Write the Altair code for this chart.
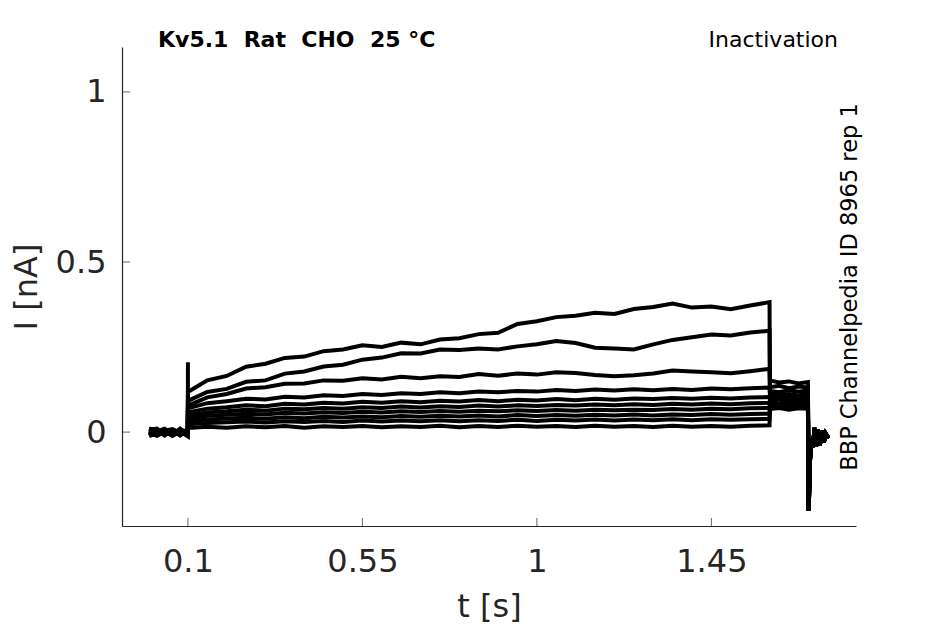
import altair as alt
import pandas as pd

# ---- data ----
t_pre = [0.0, 0.02, 0.04, 0.06, 0.08, 0.0995]
t_step = [0.10, 0.15, 0.20, 0.25, 0.30, 0.35, 0.40, 0.45, 0.50, 0.55,
          0.60, 0.65, 0.70, 0.75, 0.80, 0.85, 0.90, 0.95, 1.00, 1.05,
          1.10, 1.15, 1.20, 1.25, 1.30, 1.35, 1.40, 1.45, 1.50, 1.55, 1.60]
t_tail = [1.601, 1.625, 1.65, 1.675, 1.699]
t_post = [1.701, 1.704, 1.708, 1.712, 1.716, 1.72, 1.725, 1.73, 1.735, 1.74, 1.745, 1.752]
i_post = [-0.232, -0.09, -0.02, -0.045, 0.012, -0.042, 0.008, -0.038, 0.004, -0.03, -0.005, -0.018]
t_spike = [0.1, 0.1]
i_spike = [0.0, 0.205]

pre_a = [0.004, -0.006, 0.008, -0.004, 0.006, 0.002]
pre_b = [-0.008, 0.005, -0.003, 0.007, -0.006, 0.001]
pre_c = [0.009, -0.002, 0.005, -0.009, 0.003, -0.004]
pre_d = [-0.004, 0.008, -0.007, 0.002, -0.008, 0.006]
pre_e = [0.001, -0.009, 0.004, 0.009, -0.002, -0.007]
pre_f = [-0.010, 0.002, 0.010, -0.005, 0.008, -0.001]
pre_g = [0.007, 0.010, -0.006, 0.004, -0.010, 0.009]
pre_h = [-0.002, -0.011, 0.001, -0.008, 0.010, -0.010]
pre_i = [0.011, 0.004, -0.010, 0.006, -0.003, 0.005]
pre_j = [-0.012, -0.004, 0.002, -0.011, 0.001, -0.012]

step_a = [0.118, 0.152, 0.165, 0.192, 0.201, 0.218, 0.222, 0.238, 0.243, 0.255,
          0.250, 0.263, 0.258, 0.272, 0.276, 0.288, 0.292, 0.318, 0.326, 0.338,
          0.342, 0.351, 0.347, 0.362, 0.368, 0.378, 0.366, 0.369, 0.361, 0.372, 0.382]
step_b = [0.092, 0.118, 0.127, 0.148, 0.152, 0.172, 0.178, 0.193, 0.198, 0.213,
          0.219, 0.232, 0.231, 0.243, 0.241, 0.246, 0.243, 0.252, 0.258, 0.268,
          0.262, 0.248, 0.246, 0.243, 0.258, 0.271, 0.279, 0.287, 0.284, 0.293, 0.298]
step_c = [0.078, 0.102, 0.112, 0.128, 0.132, 0.142, 0.143, 0.152, 0.151, 0.158,
          0.155, 0.163, 0.158, 0.164, 0.162, 0.171, 0.166, 0.172, 0.169, 0.176,
          0.174, 0.168, 0.164, 0.167, 0.172, 0.181, 0.178, 0.176, 0.173, 0.179, 0.186]
step_d = [0.070, 0.085, 0.091, 0.098, 0.096, 0.104, 0.102, 0.108, 0.106, 0.112,
          0.109, 0.114, 0.112, 0.117, 0.114, 0.119, 0.117, 0.121, 0.119, 0.124,
          0.121, 0.125, 0.122, 0.126, 0.123, 0.127, 0.124, 0.128, 0.126, 0.129, 0.131]
step_e = [0.058, 0.069, 0.073, 0.079, 0.076, 0.083, 0.081, 0.086, 0.084, 0.089,
          0.086, 0.091, 0.088, 0.092, 0.090, 0.094, 0.091, 0.095, 0.093, 0.097,
          0.094, 0.098, 0.095, 0.099, 0.097, 0.100, 0.098, 0.101, 0.099, 0.102, 0.103]
step_f = [0.049, 0.058, 0.061, 0.066, 0.063, 0.069, 0.067, 0.071, 0.069, 0.073,
          0.071, 0.075, 0.072, 0.076, 0.074, 0.078, 0.075, 0.079, 0.077, 0.080,
          0.078, 0.081, 0.079, 0.082, 0.080, 0.083, 0.081, 0.084, 0.082, 0.085, 0.086]
step_g = [0.041, 0.048, 0.051, 0.054, 0.052, 0.057, 0.055, 0.058, 0.056, 0.060,
          0.058, 0.061, 0.059, 0.062, 0.060, 0.063, 0.061, 0.064, 0.062, 0.065,
          0.063, 0.066, 0.064, 0.066, 0.065, 0.068, 0.066, 0.069, 0.067, 0.070, 0.071]
step_h = [0.032, 0.037, 0.040, 0.042, 0.039, 0.044, 0.041, 0.045, 0.043, 0.046,
          0.044, 0.047, 0.045, 0.048, 0.046, 0.049, 0.046, 0.050, 0.047, 0.050,
          0.048, 0.051, 0.049, 0.052, 0.049, 0.052, 0.050, 0.053, 0.051, 0.053, 0.054]
step_i = [0.023, 0.027, 0.029, 0.031, 0.028, 0.032, 0.030, 0.033, 0.030, 0.034,
          0.031, 0.034, 0.032, 0.035, 0.032, 0.035, 0.033, 0.036, 0.033, 0.036,
          0.034, 0.037, 0.034, 0.037, 0.035, 0.038, 0.035, 0.038, 0.036, 0.038, 0.039]
step_j = [0.012, 0.016, 0.013, 0.017, 0.014, 0.018, 0.013, 0.017, 0.015, 0.018,
          0.014, 0.017, 0.015, 0.019, 0.014, 0.018, 0.015, 0.019, 0.016, 0.018,
          0.015, 0.019, 0.016, 0.018, 0.015, 0.019, 0.016, 0.018, 0.016, 0.019, 0.020]

tail_a = [0.152, 0.146, 0.149, 0.143, 0.147]
tail_b = [0.132, 0.136, 0.129, 0.134, 0.131]
tail_c = [0.121, 0.117, 0.123, 0.119, 0.122]
tail_d = [0.111, 0.107, 0.112, 0.108, 0.110]
tail_e = [0.102, 0.099, 0.104, 0.100, 0.102]
tail_f = [0.094, 0.097, 0.092, 0.096, 0.094]
tail_g = [0.088, 0.085, 0.089, 0.086, 0.088]
tail_h = [0.082, 0.079, 0.083, 0.080, 0.081]
tail_i = [0.076, 0.073, 0.077, 0.074, 0.076]
tail_j = [0.068, 0.071, 0.066, 0.070, 0.069]

x_ticks = [0.1, 0.55, 1, 1.45]
y_ticks = [0, 0.5, 1]

NB = "\u00a0"
title_left = "Kv5.1" + NB * 2 + "Rat" + NB * 2 + "CHO" + NB * 2 + "25" + NB + "°C"
title_right = "Inactivation"
side_label = "BBP Channelpedia ID 8965 rep 1"

# ---- build table ----
sweeps = {
    "a": (pre_a, step_a, tail_a), "b": (pre_b, step_b, tail_b),
    "c": (pre_c, step_c, tail_c), "d": (pre_d, step_d, tail_d),
    "e": (pre_e, step_e, tail_e), "f": (pre_f, step_f, tail_f),
    "g": (pre_g, step_g, tail_g), "h": (pre_h, step_h, tail_h),
    "i": (pre_i, step_i, tail_i), "j": (pre_j, step_j, tail_j),
}
rows = []
for name, (pre, step, tail) in sweeps.items():
    order = 0
    for t, v in list(zip(t_pre, pre)) + list(zip(t_step, step)) + list(zip(t_tail, tail)) + list(zip(t_post, i_post)):
        rows.append({"sweep": name, "t": t, "i": v, "o": order})
        order += 1
for k, (t, v) in enumerate(zip(t_spike, i_spike)):
    rows.append({"sweep": "spike", "t": t, "i": v, "o": k})
df = pd.DataFrame(rows)

X_DOM = [-0.07, 1.823]
Y_DOM = [-0.276, 1.132]
W, H = 734, 479
FONT = "DejaVu Sans"
INK = "#262626"

xs = alt.Scale(domain=X_DOM, nice=False, zero=False)
ys = alt.Scale(domain=Y_DOM, nice=False, zero=False)

lines = alt.Chart(df).mark_line(color="black", strokeWidth=4, strokeJoin="miter",
                                clip=True).encode(
    x=alt.X("t:Q", scale=xs,
            axis=alt.Axis(values=x_ticks, title="t [s]", ticks=False, grid=False,
                          labelPadding=20, titlePadding=14, format=".3~g")),
    y=alt.Y("i:Q", scale=ys,
            axis=alt.Axis(values=y_ticks, title="I [nA]", ticks=False, grid=False,
                          labelPadding=16, titlePadding=12, format=".3~g")),
    detail="sweep:N",
    order="o:Q",
)
spike = alt.Chart(df[df.sweep == "spike"]).mark_line(color="black", strokeWidth=2).encode(
    x=alt.X("t:Q", scale=xs), y=alt.Y("i:Q", scale=ys), order="o:Q")

xt = alt.Chart(pd.DataFrame({"t": x_ticks})).mark_tick(
    color=INK, size=8, thickness=1, orient="vertical").encode(
    x=alt.X("t:Q", scale=xs), y=alt.value(H - 4))
yt = alt.Chart(pd.DataFrame({"i": y_ticks})).mark_tick(
    color=INK, size=8, thickness=1, orient="horizontal").encode(
    y=alt.Y("i:Q", scale=ys), x=alt.value(4))

txt_df = pd.DataFrame({"a": [title_left], "b": [title_right], "c": [side_label]})
t1 = alt.Chart(txt_df).mark_text(font=FONT, fontSize=22, fontWeight="bold",
                                  align="left", baseline="alphabetic", color="black").encode(
    text="a:N", x=alt.value(36), y=alt.value(0))
t2 = alt.Chart(txt_df).mark_text(font=FONT, fontSize=22, align="right",
                                  baseline="alphabetic", color="black").encode(
    text="b:N", x=alt.value(716), y=alt.value(0))
t3 = alt.Chart(txt_df).mark_text(font=FONT, fontSize=22.5, align="center", angle=270,
                                  baseline="alphabetic", color="black").encode(
    text="c:N", x=alt.value(735), y=alt.value(240))

chart = alt.layer(lines, spike, xt, yt, t1, t2, t3).properties(
    width=W, height=H,
    autosize=alt.AutoSizeParams(type="none"),
    padding={"left": 114, "top": 39, "right": 80, "bottom": 98},
).configure_view(stroke=None).configure_axis(
    domainColor=INK, domainWidth=1.2, labelColor=INK, titleColor=INK,
    labelFont=FONT, titleFont=FONT, labelFontSize=32, titleFontSize=32,
    titleFontWeight="normal",
)

chart.save("out.html", embed_options={"renderer": "svg", "actions": False})
